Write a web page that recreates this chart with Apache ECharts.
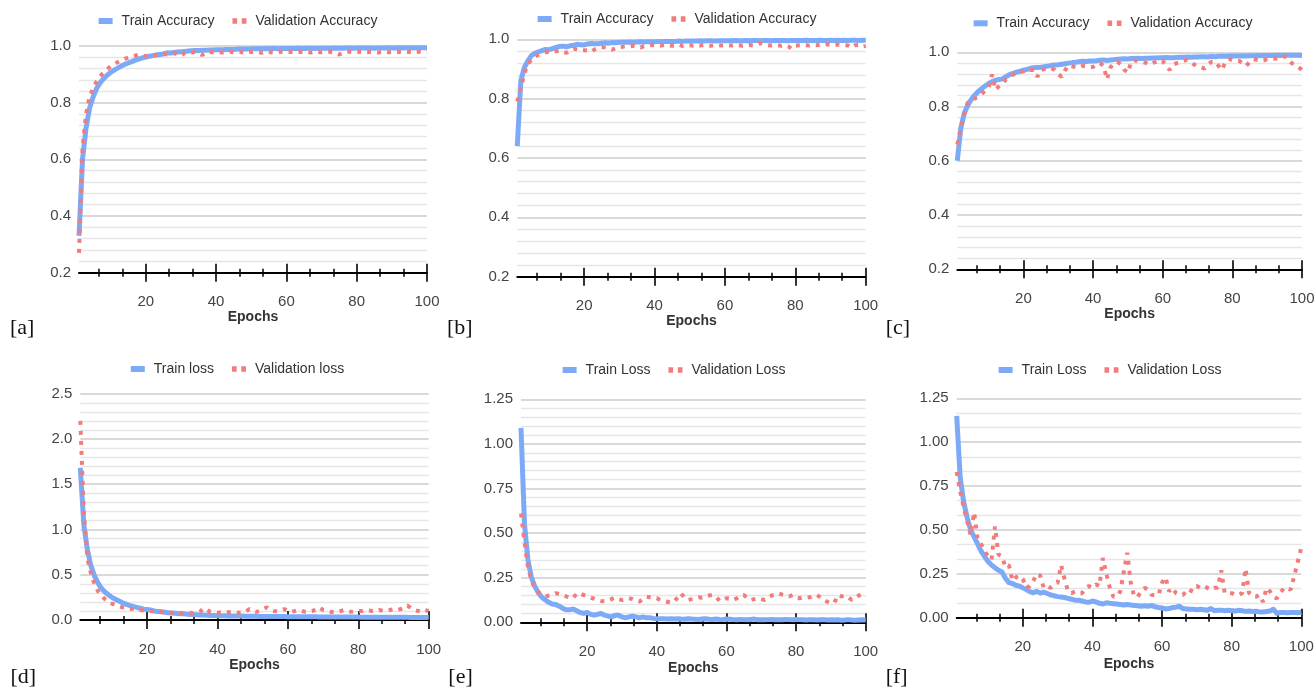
<!DOCTYPE html>
<html><head><meta charset="utf-8">
<script src="https://cdn.jsdelivr.net/npm/echarts@6/dist/echarts.min.js"></script>
<style>html,body{margin:0;padding:0;background:#fff}#chart{width:1315px;height:692px}</style>
</head><body><div id="chart"></div>
<script>
// ---------- DATA ----------
const epochs = Array.from({length: 100}, (_, i) => i + 1);
const xMajorTicks = [20, 40, 60, 80, 100];
const xMinorTicks = [6.667, 13.333, 26.667, 33.333, 46.667, 53.333, 66.667, 73.333, 86.667, 93.333];

const accTrainA = [0.33,0.60,0.71,0.78,0.82,0.85,0.87,0.885,0.897,0.907,
0.915,0.922,0.929,0.935,0.940,0.945,0.950,0.954,0.958,0.961,
0.964,0.966,0.968,0.970,0.972,0.976,0.975,0.977,0.979,0.980,
0.981,0.982,0.983,0.984,0.984,0.985,0.985,0.986,0.986,0.987,
0.987,0.987,0.988,0.988,0.988,0.989,0.989,0.989,0.989,0.990,
0.990,0.990,0.990,0.991,0.990,0.991,0.991,0.990,0.991,0.991,
0.991,0.991,0.992,0.991,0.991,0.992,0.992,0.991,0.992,0.992,
0.992,0.992,0.992,0.993,0.992,0.992,0.993,0.993,0.992,0.993,
0.993,0.993,0.993,0.993,0.992,0.993,0.993,0.993,0.994,0.993,
0.993,0.994,0.993,0.994,0.994,0.993,0.994,0.994,0.994,0.994];
const accValA = [0.27,0.64,0.76,0.82,0.85,0.875,0.893,0.906,0.918,0.928,
0.936,0.943,0.950,0.955,0.958,0.962,0.966,0.970,0.967,0.964,
0.962,0.966,0.969,0.972,0.974,0.970,0.972,0.975,0.970,0.966,
0.975,0.978,0.977,0.979,0.976,0.968,0.977,0.979,0.978,0.976,
0.978,0.977,0.979,0.980,0.977,0.978,0.979,0.975,0.978,0.979,
0.980,0.978,0.976,0.979,0.980,0.977,0.975,0.979,0.980,0.978,
0.979,0.980,0.978,0.979,0.980,0.979,0.977,0.980,0.979,0.978,
0.979,0.980,0.978,0.974,0.970,0.976,0.979,0.980,0.978,0.979,
0.980,0.979,0.978,0.980,0.979,0.977,0.979,0.980,0.978,0.979,
0.980,0.979,0.978,0.980,0.979,0.977,0.979,0.980,0.978,0.980];

const accTrainB = [0.64,0.86,0.905,0.927,0.945,0.953,0.958,0.962,0.966,0.965,
0.969,0.973,0.976,0.977,0.975,0.978,0.980,0.983,0.982,0.981,
0.984,0.986,0.985,0.985,0.987,0.988,0.987,0.989,0.988,0.990,
0.990,0.990,0.991,0.990,0.991,0.992,0.991,0.992,0.992,0.992,
0.993,0.992,0.993,0.993,0.993,0.993,0.994,0.993,0.994,0.994,
0.994,0.994,0.995,0.994,0.995,0.995,0.994,0.995,0.995,0.995,
0.995,0.995,0.996,0.995,0.995,0.996,0.995,0.996,0.996,0.995,
0.996,0.996,0.995,0.996,0.996,0.996,0.996,0.995,0.996,0.996,
0.996,0.996,0.997,0.996,0.996,0.996,0.997,0.996,0.996,0.997,
0.996,0.997,0.996,0.997,0.996,0.997,0.997,0.996,0.997,0.997];
const accValB = [0.79,0.835,0.885,0.915,0.932,0.942,0.948,0.952,0.956,0.957,
0.958,0.960,0.962,0.957,0.955,0.962,0.968,0.966,0.962,0.963,
0.962,0.958,0.966,0.970,0.974,0.972,0.969,0.965,0.970,0.974,
0.975,0.977,0.976,0.978,0.975,0.972,0.977,0.979,0.980,0.981,
0.980,0.979,0.981,0.980,0.978,0.979,0.982,0.977,0.979,0.980,
0.978,0.980,0.979,0.981,0.980,0.978,0.981,0.980,0.979,0.981,
0.980,0.979,0.981,0.980,0.978,0.980,0.981,0.979,0.982,0.987,
0.983,0.980,0.979,0.981,0.980,0.978,0.980,0.976,0.968,0.978,
0.980,0.981,0.980,0.979,0.981,0.980,0.982,0.980,0.983,0.981,
0.980,0.982,0.981,0.980,0.979,0.972,0.980,0.981,0.975,0.978];

const accTrainC = [0.60,0.72,0.775,0.805,0.826,0.842,0.855,0.866,0.876,0.885,
0.892,0.897,0.900,0.902,0.910,0.918,0.922,0.927,0.930,0.934,
0.937,0.941,0.943,0.944,0.945,0.947,0.949,0.951,0.953,0.954,
0.956,0.958,0.960,0.962,0.963,0.965,0.967,0.966,0.968,0.968,
0.969,0.971,0.972,0.970,0.972,0.973,0.974,0.975,0.976,0.975,
0.977,0.977,0.978,0.977,0.978,0.978,0.979,0.979,0.980,0.980,
0.981,0.980,0.980,0.981,0.982,0.982,0.983,0.982,0.983,0.983,
0.984,0.984,0.983,0.985,0.984,0.985,0.985,0.985,0.986,0.986,
0.986,0.986,0.987,0.986,0.987,0.987,0.988,0.987,0.988,0.988,
0.988,0.988,0.989,0.988,0.989,0.989,0.989,0.989,0.989,0.988];
const accValC = [0.66,0.72,0.77,0.815,0.82,0.83,0.835,0.845,0.86,0.87,
0.918,0.862,0.875,0.885,0.90,0.905,0.918,0.925,0.928,0.93,
0.937,0.935,0.935,0.91,0.935,0.938,0.94,0.942,0.935,0.918,
0.91,0.935,0.952,0.948,0.945,0.944,0.950,0.948,0.945,0.946,
0.955,0.96,0.95,0.90,0.945,0.958,0.965,0.955,0.935,0.925,
0.968,0.97,0.968,0.965,0.962,0.955,0.96,0.965,0.972,0.968,
0.95,0.935,0.955,0.96,0.962,0.968,0.972,0.965,0.955,0.948,
0.945,0.94,0.955,0.965,0.966,0.95,0.935,0.965,0.975,0.972,
0.97,0.968,0.96,0.95,0.965,0.975,0.972,0.97,0.97,0.975,
0.974,0.976,0.978,0.977,0.985,0.975,0.96,0.955,0.945,0.935];

const lossTrainD = [1.68,1.05,0.78,0.60,0.49,0.41,0.35,0.31,0.28,0.25,
0.23,0.21,0.19,0.175,0.16,0.15,0.14,0.13,0.12,0.115,
0.11,0.10,0.095,0.09,0.085,0.08,0.078,0.075,0.07,0.068,
0.065,0.062,0.06,0.058,0.056,0.054,0.052,0.05,0.05,0.048,
0.047,0.046,0.045,0.045,0.044,0.043,0.043,0.042,0.042,0.041,
0.041,0.04,0.04,0.04,0.039,0.039,0.038,0.038,0.038,0.037,
0.037,0.037,0.036,0.036,0.036,0.035,0.035,0.035,0.034,0.034,
0.034,0.034,0.033,0.033,0.033,0.033,0.032,0.032,0.032,0.032,
0.031,0.031,0.031,0.031,0.03,0.03,0.03,0.03,0.03,0.029,
0.029,0.029,0.029,0.029,0.028,0.028,0.028,0.028,0.028,0.027];
const lossValD = [2.2,1.2,0.68,0.52,0.40,0.32,0.27,0.23,0.2,0.18,
0.165,0.15,0.14,0.13,0.125,0.12,0.115,0.11,0.105,0.10,
0.10,0.095,0.09,0.09,0.085,0.085,0.08,0.08,0.08,0.075,
0.075,0.08,0.075,0.08,0.09,0.13,0.11,0.09,0.085,0.08,
0.085,0.08,0.085,0.09,0.085,0.08,0.085,0.09,0.12,0.1,
0.09,0.1,0.12,0.14,0.11,0.1,0.095,0.11,0.12,0.1,
0.09,0.1,0.11,0.1,0.09,0.095,0.1,0.12,0.14,0.11,
0.1,0.09,0.085,0.09,0.1,0.11,0.1,0.09,0.095,0.1,
0.1,0.11,0.105,0.1,0.1,0.11,0.1,0.1,0.11,0.12,
0.11,0.12,0.14,0.16,0.13,0.11,0.1,0.09,0.11,0.1];

const lossTrainE = [1.09,0.55,0.35,0.25,0.2,0.165,0.14,0.125,0.112,0.102,
0.1,0.09,0.078,0.07,0.07,0.075,0.065,0.055,0.05,0.055,
0.045,0.04,0.045,0.05,0.04,0.035,0.03,0.04,0.04,0.03,
0.025,0.03,0.035,0.03,0.025,0.03,0.025,0.025,0.022,0.02,
0.02,0.02,0.018,0.02,0.018,0.02,0.018,0.017,0.02,0.018,
0.017,0.016,0.018,0.02,0.017,0.016,0.018,0.016,0.015,0.018,
0.017,0.015,0.014,0.016,0.015,0.014,0.016,0.018,0.014,0.015,
0.014,0.015,0.016,0.014,0.015,0.014,0.016,0.015,0.014,0.016,
0.015,0.014,0.013,0.015,0.014,0.013,0.014,0.015,0.013,0.014,
0.013,0.014,0.012,0.013,0.015,0.013,0.012,0.013,0.014,0.013];
const lossValE = [0.61,0.45,0.31,0.235,0.19,0.17,0.155,0.145,0.15,0.155,
0.163,0.158,0.153,0.145,0.138,0.135,0.163,0.16,0.153,0.148,
0.138,0.132,0.125,0.12,0.118,0.12,0.13,0.138,0.13,0.125,
0.13,0.135,0.13,0.12,0.116,0.13,0.144,0.14,0.135,0.135,
0.125,0.12,0.115,0.11,0.115,0.14,0.163,0.135,0.125,0.13,
0.135,0.14,0.138,0.145,0.15,0.153,0.145,0.12,0.125,0.135,
0.132,0.125,0.135,0.15,0.153,0.135,0.125,0.13,0.135,0.13,
0.125,0.14,0.15,0.155,0.163,0.155,0.15,0.145,0.153,0.14,
0.135,0.14,0.138,0.14,0.15,0.153,0.14,0.125,0.115,0.106,
0.11,0.152,0.145,0.15,0.14,0.125,0.135,0.15,0.16,0.145];

const lossTrainF = [1.15,0.80,0.66,0.57,0.50,0.46,0.42,0.38,0.35,0.32,
0.30,0.285,0.27,0.26,0.225,0.20,0.195,0.185,0.18,0.17,
0.16,0.148,0.142,0.15,0.14,0.145,0.138,0.13,0.125,0.12,
0.118,0.115,0.11,0.105,0.1,0.1,0.095,0.09,0.088,0.095,
0.09,0.082,0.078,0.085,0.082,0.08,0.078,0.075,0.072,0.075,
0.072,0.07,0.068,0.065,0.068,0.065,0.07,0.062,0.058,0.055,
0.05,0.052,0.058,0.06,0.065,0.052,0.05,0.048,0.048,0.045,
0.048,0.045,0.042,0.052,0.04,0.042,0.043,0.04,0.042,0.04,
0.038,0.042,0.04,0.036,0.038,0.035,0.037,0.033,0.032,0.035,
0.038,0.048,0.025,0.03,0.03,0.028,0.03,0.03,0.028,0.032];
const lossValF = [0.83,0.72,0.63,0.55,0.47,0.60,0.45,0.42,0.38,0.35,
0.33,0.52,0.36,0.35,0.29,0.30,0.21,0.23,0.24,0.22,
0.17,0.18,0.21,0.25,0.24,0.17,0.18,0.17,0.19,0.20,
0.30,0.22,0.15,0.14,0.15,0.14,0.14,0.17,0.18,0.17,
0.19,0.18,0.34,0.25,0.17,0.12,0.12,0.15,0.26,0.37,
0.20,0.12,0.12,0.15,0.17,0.16,0.13,0.13,0.13,0.20,
0.23,0.15,0.17,0.14,0.13,0.13,0.15,0.14,0.18,0.18,
0.17,0.18,0.17,0.16,0.17,0.17,0.27,0.14,0.14,0.14,
0.13,0.13,0.14,0.28,0.14,0.12,0.12,0.13,0.09,0.17,
0.15,0.12,0.11,0.14,0.17,0.17,0.16,0.24,0.32,0.40];

// ---------- STYLE / LAYOUT ----------
const BLUE = '#7caaf7';
const RED = '#f27c7c';
const FONT = "'Liberation Sans',Roboto,sans-serif";
const LEG_FS = 14, TICK_FS = 15, NAME_FS = 14;

const panels = [
  {train: accTrainA, val: accValA, names: ['Train Accuracy', 'Validation Accuracy'],
   grid: {left: 79, top: 46, width: 348, height: 226.7}, y: {min: 0.2, max: 1.0, interval: 0.2, dec: 1, minor: 5},
   legend: {cx: 238, cy: 21}, nameGap: 37, tag: {text: '[a]', x: 10, y: 328}},
  {train: accTrainB, val: accValB, names: ['Train Accuracy', 'Validation Accuracy'],
   grid: {left: 517.3, top: 39.3, width: 348.4, height: 237.4}, y: {min: 0.2, max: 1.0, interval: 0.2, dec: 1, minor: 5},
   legend: {cx: 677, cy: 19}, nameGap: 33, tag: {text: '[b]', x: 447, y: 328}},
  {train: accTrainC, val: accValC, names: ['Train Accuracy', 'Validation Accuracy'],
   grid: {left: 957.3, top: 52.3, width: 344.7, height: 217}, y: {min: 0.2, max: 1.0, interval: 0.2, dec: 1, minor: 5},
   legend: {cx: 1113, cy: 23.3}, nameGap: 37, tag: {text: '[c]', x: 885.7, y: 328}},
  {train: lossTrainD, val: lossValD, names: ['Train loss', 'Validation loss'],
   grid: {left: 80.3, top: 393.7, width: 348.4, height: 226.3}, y: {min: 0, max: 2.5, interval: 0.5, dec: 1, minor: 5},
   legend: {cx: 237.5, cy: 369}, nameGap: 38, tag: {text: '[d]', x: 10.5, y: 677.5}},
  {train: lossTrainE, val: lossValE, names: ['Train Loss', 'Validation Loss'],
   grid: {left: 521, top: 399.3, width: 344.7, height: 223}, y: {min: 0, max: 1.25, interval: 0.25, dec: 2, minor: 5},
   legend: {cx: 674, cy: 370}, nameGap: 39, tag: {text: '[e]', x: 448.3, y: 677}},
  {train: lossTrainF, val: lossValF, names: ['Train Loss', 'Validation Loss'],
   grid: {left: 956.7, top: 398.3, width: 344.6, height: 219.4}, y: {min: 0, max: 1.25, interval: 0.25, dec: 2, minor: 3},
   legend: {cx: 1110, cy: 370}, nameGap: 39, tag: {text: '[f]', x: 885.7, y: 677}}
];

const measureCtx = document.createElement('canvas').getContext('2d');
measureCtx.font = LEG_FS + "px " + FONT;
const textW = s => measureCtx.measureText(s).width;

const grids = [], xAxes = [], yAxes = [], series = [], legends = [], graphics = [];
panels.forEach((p, k) => {
  grids.push(Object.assign({outerBoundsMode: 'none', containLabel: false}, p.grid));
  const baseX = {type: 'value', gridIndex: k, position: 'bottom', offset: 0, min: 1, max: 100,
                 splitLine: {show: false}, axisLabel: {show: false}, axisLine: {show: false}};
  xAxes.push(Object.assign({}, baseX, {
    axisLine: {show: true, lineStyle: {color: '#000', width: 2}},
    axisLabel: {show: true, customValues: xMajorTicks, fontFamily: FONT, fontSize: TICK_FS, color: '#444', margin: 22},
    axisTick: {show: true, customValues: xMajorTicks, length: 9, inside: false, lineStyle: {color: '#000', width: 1.6}},
    name: 'Epochs', nameLocation: 'middle', nameGap: p.nameGap,
    nameTextStyle: {fontFamily: FONT, fontSize: NAME_FS, fontWeight: 'bold', color: '#333'}
  }));
  xAxes.push(Object.assign({}, baseX, {
    axisTick: {show: true, customValues: xMajorTicks, length: 9, inside: true, lineStyle: {color: '#000', width: 1.6}}}));
  xAxes.push(Object.assign({}, baseX, {
    axisTick: {show: true, customValues: xMinorTicks, length: 4, inside: false, lineStyle: {color: '#000', width: 1.5}}}));
  xAxes.push(Object.assign({}, baseX, {
    axisTick: {show: true, customValues: xMinorTicks, length: 4, inside: true, lineStyle: {color: '#000', width: 1.5}}}));
  yAxes.push({
    type: 'value', gridIndex: k, min: p.y.min, max: p.y.max, interval: p.y.interval,
    axisLine: {show: false}, axisTick: {show: false},
    axisLabel: {fontFamily: FONT, fontSize: TICK_FS, color: '#444', margin: 8, formatter: v => v.toFixed(p.y.dec)},
    splitLine: {show: true, lineStyle: {color: '#cccccc', width: 1.5}},
    minorTick: {show: false, splitNumber: p.y.minor},
    minorSplitLine: {show: true, lineStyle: {color: '#e6e6e6', width: 1.3}}
  });
  series.push({
    type: 'line', name: p.names[0], xAxisIndex: 4 * k, yAxisIndex: k,
    data: p.train.map((v, i) => [epochs[i], v]),
    showSymbol: false, symbol: 'none', clip: false, silent: true, z: 2,
    lineStyle: {color: BLUE, width: 5, join: 'round'}, itemStyle: {color: BLUE}
  });
  series.push({
    type: 'line', name: p.names[1], xAxisIndex: 4 * k, yAxisIndex: k,
    data: p.val.map((v, i) => [epochs[i], v]),
    showSymbol: false, symbol: 'none', clip: false, silent: true, z: 3,
    lineStyle: {color: RED, width: 4, type: [4, 6], cap: 'butt'}, itemStyle: {color: RED}
  });
  const legW = (14 + 5 + 4) * 2 + 18 + textW(p.names[0]) + textW(p.names[1]);
  legends.push({
    left: p.legend.cx - legW / 2, top: p.legend.cy - LEG_FS / 2, padding: 0, itemGap: 18, itemWidth: 14, itemHeight: 6,
    selectedMode: false, itemStyle: {borderWidth: 0},
    textStyle: {fontFamily: FONT, fontSize: LEG_FS, color: '#333', padding: [0, 0, 0, 4]},
    data: [
      {name: p.names[0], icon: 'rect', itemStyle: {color: BLUE, borderWidth: 0}},
      {name: p.names[1], icon: 'path://M0,0h5v6h-5zM10,0h5v6h-5z', itemStyle: {color: RED, borderWidth: 0}}
    ]
  });
  graphics.push({
    type: 'text', x: p.tag.x, y: p.tag.y,
    style: {text: p.tag.text, fontFamily: "'Liberation Serif','DejaVu Serif',serif", fontSize: 22,
            fill: '#111', align: 'left', verticalAlign: 'middle'}
  });
});

const chart = echarts.init(document.getElementById('chart'), null, {renderer: 'canvas'});
chart.setOption({
  animation: false,
  backgroundColor: '#fff',
  grid: grids, xAxis: xAxes, yAxis: yAxes, series: series, legend: legends,
  graphic: {elements: graphics}
});
</script></body></html>
